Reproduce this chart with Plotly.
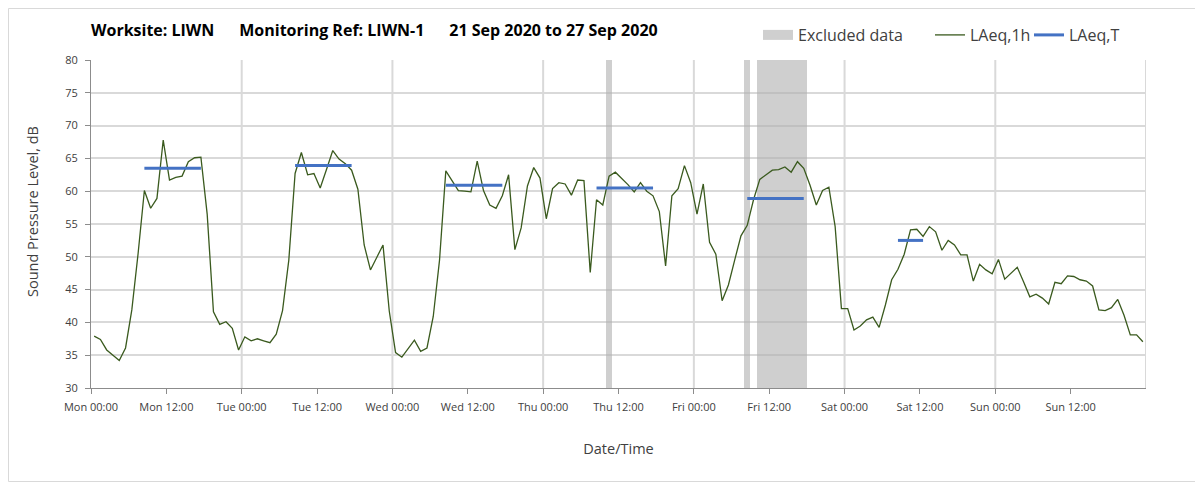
import plotly.graph_objects as go
import pandas as pd

# ---------------- data ----------------
start = "2020-09-21 00:00"

laeq_1h = [
    37.9, 37.4, 35.8, 35.0, 34.2, 36.1, 41.9, 50.5, 60.1, 57.4, 58.9, 67.8,
    61.7, 62.1, 62.3, 64.5, 65.1, 65.2, 56.5, 41.6, 39.7, 40.1, 39.1, 35.8,
    37.8, 37.2, 37.5, 37.2, 36.9, 38.2, 41.8, 49.5, 62.7, 65.9, 62.5, 62.7,
    60.5, 63.3, 66.2, 64.9, 64.2, 63.2, 60.3, 51.8, 48.0, 49.9, 51.8, 41.7,
    35.4, 34.7, 36.0, 37.3, 35.6, 36.1, 40.9, 49.5, 63.1, 61.7, 60.1, 60.0,
    59.9, 64.6, 60.1, 57.9, 57.4, 59.3, 62.5, 51.1, 54.4, 60.8, 63.6, 62.0,
    55.8, 60.4, 61.3, 61.1, 59.4, 61.7, 61.6, 47.6, 58.7, 57.9, 62.3, 62.9,
    62.0, 61.0, 59.9, 61.3, 60.0, 59.3, 56.9, 48.6, 59.3, 60.4, 63.9, 61.3,
    56.5, 61.1, 52.2, 50.4, 43.3, 45.7, 49.5, 53.2, 54.8, 58.7, 61.8, 62.5,
    63.2, 63.3, 63.7, 62.9, 64.5, 63.5, 60.9, 57.9, 60.1, 60.6, 54.6, 42.1,
    42.1, 38.85, 39.45, 40.4, 40.8, 39.25, 42.65, 46.5, 48.1, 50.4, 54.1, 54.2,
    53.1, 54.6, 53.8, 51.0, 52.5, 51.8, 50.3, 50.3, 46.3, 48.85, 48.0, 47.4,
    49.6, 46.6, 47.5, 48.4, 46.2, 43.9, 44.3, 43.7, 42.8, 46.1, 45.9, 47.1,
    47.0, 46.5, 46.3, 45.55, 41.9, 41.8, 42.25, 43.5, 41.1, 38.1, 38.1, 37.06,
]

# hour indices (from Mon 00:00) flagged as excluded
excluded_hours = [82, 104, 106, 107, 108, 109, 110, 111, 112, 113]

# LAeq,T periods: (first hour index, last hour index, level)
laeq_t_periods = [
    (8, 17, 63.5),
    (32, 41, 63.9),
    (56, 65, 60.9),
    (80, 89, 60.5),
    (104, 113, 58.9),
    (128, 132, 52.5),
]

title_text = ("Worksite: LIWN" + "\u00a0" * 6 + "Monitoring Ref: LIWN-1" + "\u00a0" * 6
              + "21 Sep 2020 to 27 Sep 2020")
y_title = "Sound Pressure Level, dB"
x_title = "Date/Time"

# ---------------- derived ----------------
n = len(laeq_1h)
times = pd.date_range(start, periods=n, freq="h")
hour_ms = 3600 * 1000

excl = [80 if i in excluded_hours else None for i in range(n)]
laeq_t = [None] * n
for a, b, v in laeq_t_periods:
    for i in range(a, b + 1):
        laeq_t[i] = v

x_start = times[0]
x_end = times[0] + pd.Timedelta(days=7)
tickvals = pd.date_range(x_start, periods=14, freq="12h")
ticktext = [t.strftime("%a %H:%M") for t in tickvals]
day_lines = pd.date_range(x_start + pd.Timedelta(days=1), x_end, freq="D")

FONT = "Open Sans"
grid_col = "#d9d9d9"
axis_col = "#8c8c8c"
txt_col = "#404040"
excl_col = "rgba(175,175,175,0.6)"

fig = go.Figure()
fig.add_trace(go.Bar(
    x=times, y=excl, name="Excluded data",
    xperiod=hour_ms, xperiodalignment="middle",
    width=hour_ms, base=0, showlegend=False,
    marker=dict(color=excl_col, line=dict(width=0)),
    hoverinfo="skip",
))
# legend key for the excluded-data bars (wide grey box, as in the original)
fig.add_trace(go.Scatter(
    x=[None], y=[None], name="Excluded data", mode="lines",
    line=dict(color=excl_col, width=12), legend="legend",
))
fig.add_trace(go.Scatter(
    x=times, y=laeq_1h, name="LAeq,1h", mode="lines",
    xperiod=hour_ms, xperiodalignment="middle",
    line=dict(color="#3a5a1e", width=1.3), legend="legend2",
))
fig.add_trace(go.Scatter(
    x=times, y=laeq_t, name="LAeq,T", mode="lines",
    xperiod=hour_ms, xperiodalignment="middle",
    connectgaps=False,
    line=dict(color="#4472c4", width=3), legend="legend3",
))

# page has an 8px body margin; the figure is sized/offset to compensate
W, H = 1195, 475
L, T = 83, 52
pw, ph = 1055, 328
R = W - L - pw
B = H - T - ph

shapes = []
for d in day_lines:
    shapes.append(dict(type="line", xref="x", yref="paper", x0=d, x1=d, y0=0, y1=1,
                       line=dict(color=grid_col, width=2), layer="below"))
# outer chart border
shapes.append(dict(type="rect", xref="paper", yref="paper",
                   x0=(0.5 - L) / pw, x1=(1200 - L) / pw,
                   y0=(H - B - 473.5) / ph, y1=(H - B - 0.5) / ph,
                   line=dict(color="#d9d9d9", width=1), fillcolor="rgba(0,0,0,0)", layer="below"))


def leg(text_left_page):
    return dict(orientation="h", x=(text_left_page - 8 - 40 - L) / pw, xanchor="left",
                y=1 + (T - 27) / ph, yanchor="middle",
                font=dict(size=16, color=txt_col), bgcolor="rgba(0,0,0,0)",
                borderwidth=0)


fig.update_layout(
    width=W, height=H,
    margin=dict(l=L, r=R, t=T, b=B, autoexpand=False),
    paper_bgcolor="white", plot_bgcolor="white",
    font=dict(family=FONT, color=txt_col),
    bargap=0,
    showlegend=True,
    title=dict(text="<b>" + title_text + "</b>", x=0, xref="paper", xanchor="left",
               y=1 - 22 / H, yref="container", yanchor="middle",
               font=dict(size=16, color="#000000", family=FONT)),
    legend=leg(798),
    legend2=leg(970),
    legend3=leg(1069),
    shapes=shapes,
    annotations=[dict(text=y_title, textangle=-90, xref="paper", yref="paper",
                      x=(32 - 8 - L) / pw, y=(388 - 212) / ph, xanchor="center", yanchor="middle",
                      showarrow=False, font=dict(size=14.5, color=txt_col))],
    xaxis=dict(
        type="date", range=[x_start, x_end], automargin=False,
        tickmode="array", tickvals=tickvals, ticktext=ticktext,
        showgrid=False, showline=True, linecolor=axis_col, linewidth=1,
        ticks="outside", ticklen=5, tickcolor=axis_col,
        tickfont=dict(size=11, color=txt_col), ticklabelstandoff=4,
        title=dict(text=x_title, font=dict(size=14.5, color=txt_col), standoff=30),
    ),
    yaxis=dict(
        range=[30, 80], dtick=5, tick0=30, automargin=False,
        showgrid=True, gridcolor=grid_col, gridwidth=2,
        showline=True, linecolor=axis_col, linewidth=1,
        ticks="outside", ticklen=5, tickcolor=axis_col,
        tickfont=dict(size=11, color=txt_col), ticklabelstandoff=5,
        zeroline=False,
    ),
)

fig.write_html("out.html")
